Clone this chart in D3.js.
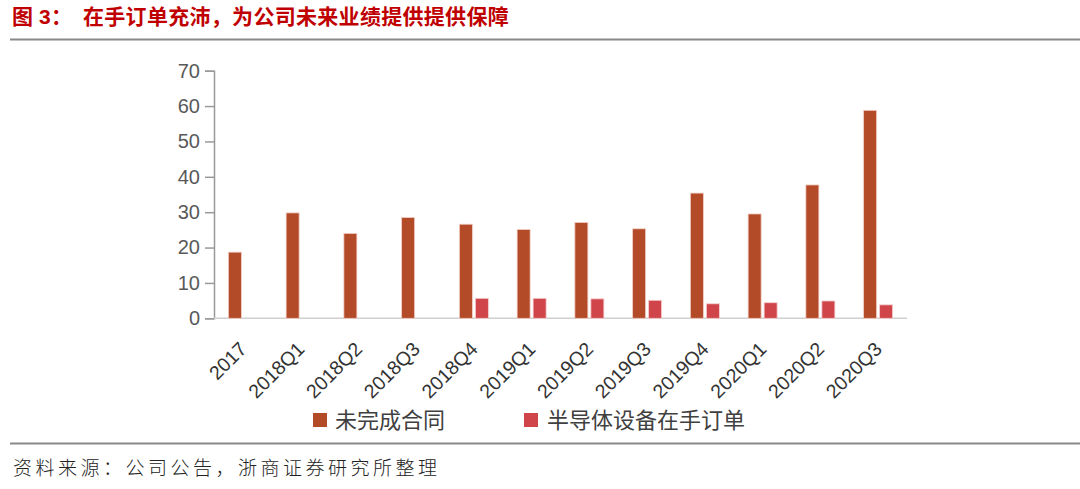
<!DOCTYPE html>
<html><head><meta charset="utf-8">
<script src="https://cdn.jsdelivr.net/npm/d3@7"></script>
<style>body{margin:0;background:#fff;} svg{display:block;}</style>
</head><body>
<script>
const categories = ["2017","2018Q1","2018Q2","2018Q3","2018Q4","2019Q1","2019Q2","2019Q3","2019Q4","2020Q1","2020Q2","2020Q3"];
const seriesNames = ["未完成合同","半导体设备在手订单"];
const contracts = [18.7,29.8,24.0,28.5,26.6,25.1,27.1,25.3,35.4,29.5,37.7,58.8];
const semiOrders = [null,null,null,null,5.65,5.65,5.5,5.1,4.1,4.4,4.9,3.8];
const yTicks = [0,10,20,30,40,50,60,70];
const colors = ["#B34A28","#D0454A"];

const W=1080,H=489;
const svg=d3.select("body").append("svg").attr("width",W).attr("height",H);
const font="'Liberation Sans', Arial, sans-serif";
const cjk="'Noto Sans CJK SC', sans-serif";

// title
const t=svg.append("text").attr("y",24).attr("fill","#C00000")
  .attr("font-family",cjk).attr("font-weight","bold").attr("font-size",21);
t.append("tspan").attr("x",12).text("图");
t.append("tspan").attr("x",39).attr("font-family",font).text("3");
t.append("tspan").attr("x",51).text("：");
t.append("tspan").attr("x",83).attr("letter-spacing",0.3).text("在手订单充沛，为公司未来业绩提供提供保障");
svg.append("line").attr("x1",10).attr("x2",W).attr("y1",39.5).attr("y2",39.5).attr("stroke","#888").attr("stroke-width",2);
svg.append("line").attr("x1",10).attr("x2",W).attr("y1",443.5).attr("y2",443.5).attr("stroke","#888").attr("stroke-width",2);
svg.append("text").attr("x",13).attr("y",475).attr("fill","#222")
  .attr("font-family",cjk).attr("font-weight",300).attr("font-size",19)
  .attr("letter-spacing",3.5)
  .text("资料来源：公司公告，浙商证券研究所整理");

const x0=214,x1=907,yB=318.3,yT=70.7;
const x=d3.scaleBand().domain(categories).range([x0,x1]);
const y=d3.scaleLinear().domain([0,70]).range([yB,yT]);

// y axis
const ya=svg.append("g").attr("transform",`translate(${x0},0)`)
  .call(d3.axisLeft(y).tickValues(yTicks).tickSize(9).tickPadding(5));
ya.select(".domain").attr("stroke","#999").attr("stroke-width",1.5);
ya.selectAll(".tick line").attr("stroke","#999").attr("stroke-width",1.5);
ya.selectAll(".tick text").attr("font-family",font).attr("font-size",20).attr("fill","#595959");

// baseline
svg.append("line").attr("x1",x0).attr("x2",x1).attr("y1",yB).attr("y2",yB).attr("stroke","#d0d0d0").attr("stroke-width",1.5);

const bw=13;
const g=svg.append("g");
g.selectAll("rect.c").data(contracts).join("rect")
  .attr("x",(d,i)=>x(categories[i])+x.bandwidth()/2-bw-1.5)
  .attr("y",d=>y(d)).attr("width",bw).attr("height",d=>yB-y(d))
  .attr("fill",colors[0]).attr("stroke","#f2cfc6").attr("stroke-width",0.8);
g.selectAll("rect.s").data(semiOrders.map((v,i)=>({v,i})).filter(d=>d.v!=null)).join("rect")
  .attr("x",d=>x(categories[d.i])+x.bandwidth()/2+1.5)
  .attr("y",d=>y(d.v)).attr("width",bw).attr("height",d=>yB-y(d.v))
  .attr("fill",colors[1]).attr("stroke","#f5d0d2").attr("stroke-width",0.8);

// x labels
const xa=svg.append("g").attr("transform",`translate(0,${yB})`)
  .call(d3.axisBottom(x).tickSize(0).tickPadding(0));
xa.select(".domain").remove();
xa.selectAll(".tick text").attr("font-family",font).attr("font-size",19.5).attr("fill","#333")
  .attr("text-anchor","end").attr("dy",0)
  .attr("transform","translate(5,32) rotate(-45)");

// legend
const leg=[{x:313,tx:335},{x:524,tx:547}];
seriesNames.forEach((n,i)=>{
  svg.append("rect").attr("x",leg[i].x).attr("y",413).attr("width",14).attr("height",14).attr("fill",colors[i]);
  svg.append("text").attr("x",leg[i].tx).attr("y",428).attr("font-family",cjk).attr("font-size",22)
    .attr("fill","#404040").text(n);
});
</script>
</body></html>
